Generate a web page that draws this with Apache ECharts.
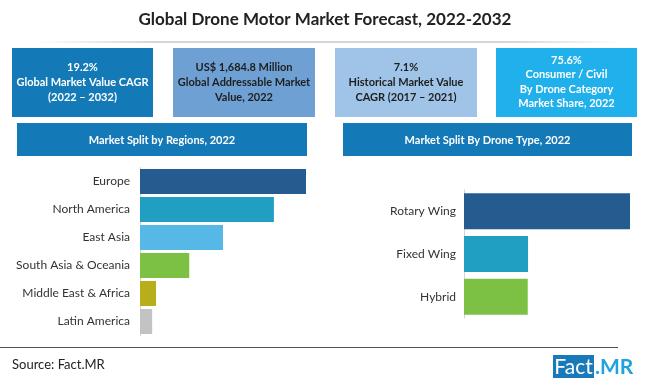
<!DOCTYPE html>
<html>
<head>
<meta charset="utf-8">
<script src="https://cdn.jsdelivr.net/npm/echarts@6/dist/echarts.min.js"></script>
<style>
html,body{margin:0;padding:0;background:#fff;}
#c{width:650px;height:385px;}
</style>
</head>
<body>
<div id="c"></div>
<script>
var titleText = 'Global Drone Motor Market Forecast, 2022-2032';
var statTexts = [
  '19.2%\nGlobal Market Value CAGR\n(2022 \u2013 2032)',
  'US$ 1,684.8 Million\nGlobal Addressable Market\nValue, 2022',
  '7.1%\nHistorical Market Value\nCAGR (2017 \u2013 2021)',
  '75.6%\nConsumer / Civil\nBy Drone Category\nMarket Share, 2022'
];
var sectionTitles = ['Market Split by Regions, 2022', 'Market Split By Drone Type, 2022'];

var regionCategories = ['Europe', 'North America', 'East Asia', 'South Asia & Oceania', 'Middle East & Africa', 'Latin America'];
var regionValues = [30.0, 24.2, 15.0, 8.9, 2.9, 2.2];
var regionColors = ['#255c90', '#209fc3', '#56b8e7', '#7cc143', '#b7ae1c', '#c3c3c3'];

var typeCategories = ['Rotary Wing', 'Fixed Wing', 'Hybrid'];
var typeValues = [56.5, 21.8, 21.7];
var typeColors = ['#255c90', '#209fc3', '#7cc143'];

var FONT = 'Lato, "Open Sans", sans-serif';

var chart = echarts.init(document.getElementById('c'), null, {renderer: 'canvas'});

var boxes = [
  {x: 12, y: 48, w: 141, h: 69, fill: '#1479b7', color: '#ffffff', lh: 15},
  {x: 173, y: 48, w: 142, h: 69, fill: '#6ea0d4', color: '#1e1e1e', lh: 15},
  {x: 335, y: 48, w: 142, h: 69, fill: '#9fc4e8', color: '#1e1e1e', lh: 15},
  {x: 496, y: 48, w: 141, h: 69, fill: '#20b1ec', color: '#ffffff', lh: 14.5}
];
var graphics = [];
graphics.push({
  type: 'text', left: 'center', top: 11,
  style: {text: titleText, font: 'bold 17px ' + FONT, fill: '#222222'}
});
graphics.push({
  type: 'line', shape: {x1: 40, y1: 42, x2: 620, y2: 42},
  style: {
    lineWidth: 1,
    stroke: new echarts.graphic.LinearGradient(0, 0, 1, 0, [
      {offset: 0, color: 'rgba(150,150,150,0)'},
      {offset: 0.2, color: 'rgba(150,150,150,0.8)'},
      {offset: 0.8, color: 'rgba(150,150,150,0.8)'},
      {offset: 1, color: 'rgba(150,150,150,0)'}
    ])
  }
});
boxes.forEach(function (b, i) {
  graphics.push({type: 'rect', shape: {x: b.x, y: b.y, width: b.w, height: b.h}, style: {fill: b.fill}});
  graphics.push({
    type: 'text', x: b.x + b.w / 2, y: 82,
    style: {text: statTexts[i], font: 'bold 11px ' + FONT, fill: b.color, textAlign: 'center', textVerticalAlign: 'middle', lineHeight: b.lh}
  });
});
var heads = [{x: 17, w: 290}, {x: 343, w: 289}];
heads.forEach(function (h, i) {
  graphics.push({type: 'rect', shape: {x: h.x, y: 123, width: h.w, height: 33}, style: {fill: '#1479b7'}});
  graphics.push({
    type: 'text', x: h.x + h.w / 2, y: 140,
    style: {text: sectionTitles[i], font: 'bold 11px ' + FONT, fill: '#ffffff', textAlign: 'center', textVerticalAlign: 'middle'}
  });
});
graphics.push({type: 'line', shape: {x1: 0, y1: 347.5, x2: 618, y2: 347.5}, style: {stroke: '#555555', lineWidth: 1}});
graphics.push({type: 'text', x: 12, y: 365, style: {text: 'Source: Fact.MR', font: '13px ' + FONT, fill: '#222222', textVerticalAlign: 'middle'}});
graphics.push({type: 'rect', shape: {x: 553, y: 355, width: 41, height: 23}, style: {fill: '#1a7ab9'}});
graphics.push({type: 'text', x: 573.5, y: 367, style: {text: 'Fact', font: '21px ' + FONT, fill: '#ffffff', textAlign: 'center', textVerticalAlign: 'middle'}});
graphics.push({type: 'text', x: 595, y: 367, style: {text: '.MR', font: 'bold 21px ' + FONT, fill: '#1fa3dd', textVerticalAlign: 'middle'}});

chart.setOption({
  animation: false,
  graphic: graphics,
  grid: [
    {left: 140, right: 344, top: 167.5, height: 168},
    {left: 464, right: 20, top: 190, height: 128}
  ],
  xAxis: [
    {gridIndex: 0, type: 'value', min: 0, max: 'dataMax', show: false},
    {gridIndex: 1, type: 'value', min: 0, max: 'dataMax', show: false}
  ],
  yAxis: [
    {gridIndex: 0, type: 'category', data: regionCategories, inverse: true,
     axisLine: {lineStyle: {color: '#d4d4d4'}}, axisTick: {show: false},
     axisLabel: {margin: 10, fontSize: 12, color: '#333333', fontFamily: FONT}},
    {gridIndex: 1, type: 'category', data: typeCategories, inverse: true,
     axisLine: {lineStyle: {color: '#d4d4d4'}}, axisTick: {show: false},
     axisLabel: {margin: 8, fontSize: 12, color: '#333333', fontFamily: FONT}}
  ],
  series: [
    {type: 'bar', xAxisIndex: 0, yAxisIndex: 0, barWidth: 25,
     data: regionValues.map(function (v, i) { return {value: v, itemStyle: {color: regionColors[i]}}; })},
    {type: 'bar', xAxisIndex: 1, yAxisIndex: 1, barWidth: 36,
     data: typeValues.map(function (v, i) { return {value: v, itemStyle: {color: typeColors[i]}}; })}
  ]
});
</script>
</body>
</html>
